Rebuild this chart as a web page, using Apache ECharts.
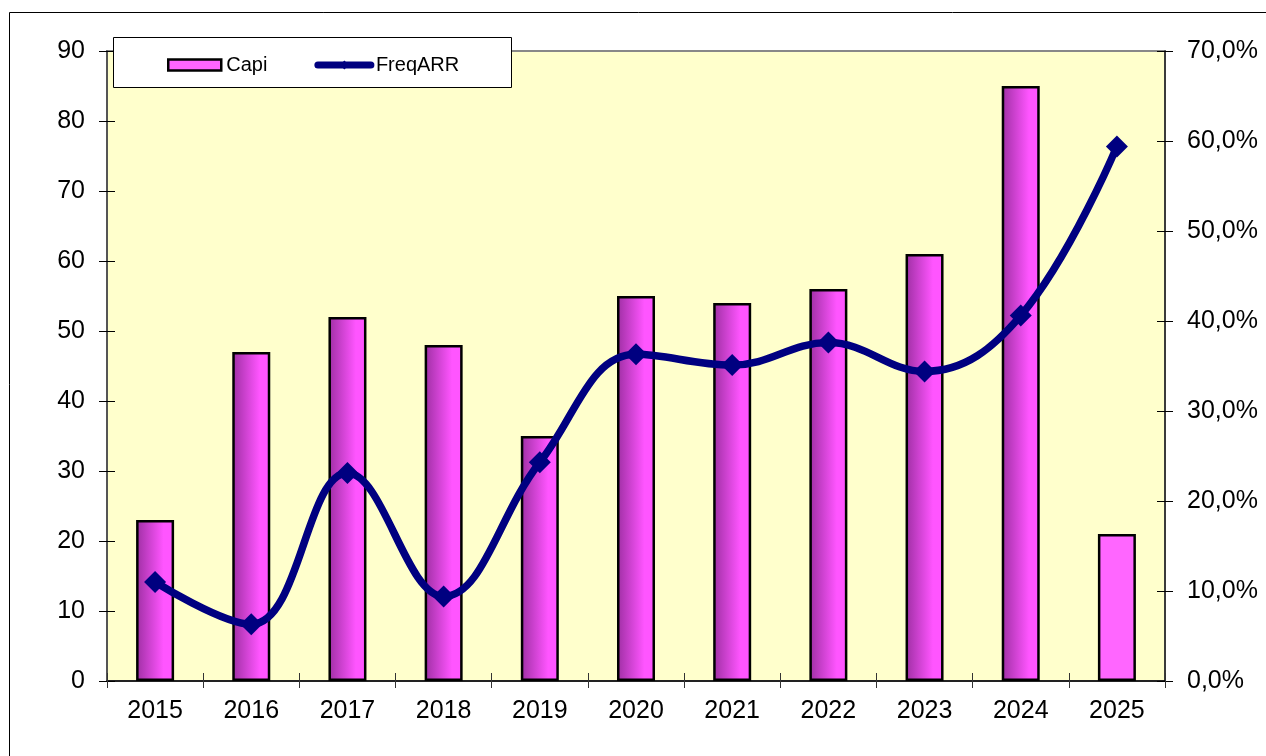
<!DOCTYPE html>
<html>
<head>
<meta charset="utf-8">
<script src="https://cdn.jsdelivr.net/npm/echarts@6/dist/echarts.min.js"></script>
<style>
html,body{margin:0;padding:0;background:#fff;}
#c{width:1266px;height:756px;}
</style>
</head>
<body>
<div id="c"></div>
<script>
const years = ['2015','2016','2017','2018','2019','2020','2021','2022','2023','2024','2025'];
const capi = [23, 47, 52, 48, 35, 55, 54, 56, 61, 85, 21];
const freqARR = [11.0, 6.3, 23.1, 9.4, 24.3, 36.3, 35.1, 37.6, 34.4, 40.6, 59.4];
const leftTicks = {min: 0, max: 90, interval: 10};
const rightTicks = {min: 0, max: 70, interval: 10};

const FONT = '"Liberation Sans", Arial, sans-serif';
const barGrad = {
  type: 'linear', x: 0, y: 0, x2: 1, y2: 0,
  colorStops: [
    {offset: 0, color: '#9E2FA3'},
    {offset: 0.72, color: '#FF55FF'},
    {offset: 1, color: '#FF55FF'}
  ]
};
const barData = capi.map((v, i) => i === capi.length - 1
  ? {value: v, itemStyle: {color: '#FF66FF'}}
  : {value: v});

const chart = echarts.init(document.getElementById('c'), null, {renderer: 'canvas'});
chart.setOption({
  animation: false,
  backgroundColor: '#fff',
  textStyle: {fontFamily: FONT},
  graphic: [
    {type: 'rect', z: 0, silent: true,
     shape: {x: 9.5, y: 12.5, width: 1400, height: 900},
     style: {fill: null, stroke: '#000', lineWidth: 1}},
    {type: 'rect', z: 50, silent: true,
     shape: {x: 113.5, y: 37.5, width: 398, height: 50},
     style: {fill: '#fff', stroke: '#000', lineWidth: 1}}
  ],
  legend: {
    z: 60,
    left: 162, top: 50,
    itemGap: 47,
    itemWidth: 53, itemHeight: 11,
    textStyle: {fontFamily: FONT, fontSize: 20, color: '#000'},
    data: [
      {name: 'Capi', icon: 'rect', itemStyle: {color: '#FF66FF', borderColor: '#000', borderWidth: 2.5}},
      {name: 'FreqARR', lineStyle: {width: 7, color: '#000080', cap: 'round'}, itemStyle: {color: '#000080'}}
    ]
  },
  grid: {
    left: 107, right: 101, top: 51, bottom: 75,
    show: true, backgroundColor: '#FFFFCC', borderColor: '#888', borderWidth: 2
  },
  xAxis: [
    {type: 'category', data: years, boundaryGap: true,
     axisLine: {lineStyle: {color: '#000', width: 1.5}},
     axisTick: {show: true, inside: false, length: 7, lineStyle: {color: '#333'}},
     axisLabel: {margin: 18, fontSize: 25, color: '#000', fontFamily: FONT},
     splitLine: {show: false}},
    {type: 'category', data: years, boundaryGap: true, position: 'bottom',
     axisLine: {show: false},
     axisTick: {show: true, inside: true, length: 8, lineStyle: {color: '#333'}},
     axisLabel: {show: false}, splitLine: {show: false}}
  ],
  yAxis: [
    {type: 'value', position: 'left', min: leftTicks.min, max: leftTicks.max, interval: leftTicks.interval,
     axisLine: {show: true, lineStyle: {color: '#444', width: 1.5}},
     axisTick: {show: true, inside: false, length: 8, lineStyle: {color: '#000'}},
     axisLabel: {margin: 22, fontSize: 25, color: '#000', fontFamily: FONT},
     splitLine: {show: false}},
    {type: 'value', position: 'right', min: rightTicks.min, max: rightTicks.max, interval: rightTicks.interval,
     axisLine: {show: true, lineStyle: {color: '#222', width: 1.5}},
     axisTick: {show: true, inside: false, length: 8, lineStyle: {color: '#000'}},
     axisLabel: {margin: 22, fontSize: 25, color: '#000', fontFamily: FONT,
       formatter: v => v.toFixed(1).replace('.', ',') + '%'},
     splitLine: {show: false}},
    {type: 'value', position: 'left', min: leftTicks.min, max: leftTicks.max, interval: leftTicks.interval,
     axisLine: {show: false},
     axisTick: {show: true, inside: true, length: 8, lineStyle: {color: '#000'}},
     axisLabel: {show: false}, splitLine: {show: false}},
    {type: 'value', position: 'right', min: rightTicks.min, max: rightTicks.max, interval: rightTicks.interval,
     axisLine: {show: false},
     axisTick: {show: true, inside: true, length: 8, lineStyle: {color: '#000'}},
     axisLabel: {show: false}, splitLine: {show: false}}
  ],
  series: [
    {name: 'Capi', type: 'bar', xAxisIndex: 0, yAxisIndex: 0,
     barWidth: 38, data: barData,
     itemStyle: {color: barGrad, borderColor: '#000', borderWidth: 2.5}},
    {name: 'FreqARR', type: 'line', xAxisIndex: 0, yAxisIndex: 1,
     smooth: 0.4, data: freqARR,
     symbol: 'diamond', symbolSize: 22,
     lineStyle: {color: '#000080', width: 7.5},
     itemStyle: {color: '#000080'}, z: 5}
  ]
});
</script>
</body>
</html>
